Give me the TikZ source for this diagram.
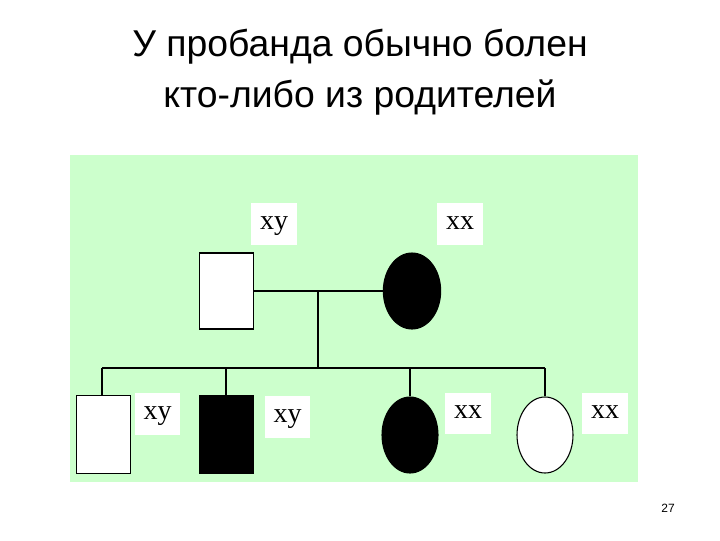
\documentclass[tikz,border=0pt]{standalone}
\usepackage{fontspec}
\usetikzlibrary{shapes.geometric}
\setmainfont{Liberation Sans}
\newfontfamily\serifl{Liberation Serif}
\definecolor{bg}{RGB}{204,255,204}
\begin{document}
\begin{tikzpicture}[x=0.75pt,y=-0.75pt,
  lab/.style={fill=white,draw=none,font=\serifl\fontsize{21}{21}\selectfont,minimum width=34pt,minimum height=31pt,inner sep=0pt,text depth=2pt},
  ln/.style={draw,line width=0.8pt}]
\useasboundingbox (0,0) rectangle (720,540);
\fill[bg] (70,155) rectangle (638,482);
\node[font=\fontsize{28}{38}\selectfont,align=center] (title) at (360,72) {У пробанда обычно болен\\кто-либо из родителей};
\node[font=\fontsize{9}{9}\selectfont] (pg) at (668,508) {27};
% parents
\node[ln,fill=white,minimum width=40pt,minimum height=57pt,inner sep=0pt] (f) at (226.5,291) {};
\node[ln,fill=black,ellipse,minimum width=43pt,minimum height=57pt,inner sep=0pt] (m) at (412,291) {};
\node[lab] (lf) at (274,224) {xy};
\node[lab] (lm) at (460,224) {xx};
\coordinate (mid) at (318,291);
\coordinate (sib) at (318,368);
\draw[line width=0.8pt] (f.east) -- (m.west);
\draw[line width=0.8pt] (mid) -- (sib);
% children
\node[ln,fill=white,minimum width=40pt,minimum height=58pt,inner sep=0pt] (c1) at (103.5,434.5) {};
\node[ln,fill=black,minimum width=40pt,minimum height=58pt,inner sep=0pt] (c2) at (226.5,434.5) {};
\node[ln,fill=black,ellipse,minimum width=42pt,minimum height=57pt,inner sep=0pt] (c3) at (410,435) {};
\node[ln,fill=white,ellipse,minimum width=42pt,minimum height=57pt,inner sep=0pt] (c4) at (545,435) {};
\node[lab] (l1) at (157.5,414) {xy};
\node[lab] (l2) at (287.5,417) {xy};
\node[lab] (l3) at (468,413.5) {xx};
\node[lab] (l4) at (605,413.5) {xx};
\coordinate (s1) at (102,368);
\coordinate (s2) at (226,368);
\coordinate (s3) at (410,368);
\coordinate (s4) at (545,368);
\draw[line width=0.8pt] (s1) -- (s4);
\draw[line width=0.8pt] (s1) -- (c1.north -| s1);
\draw[line width=0.8pt] (s2) -- (c2.north -| s2);
\draw[line width=0.8pt] (s3) -- (c3.north);
\draw[line width=0.8pt] (s4) -- (c4.north);
\end{tikzpicture}
\end{document}
